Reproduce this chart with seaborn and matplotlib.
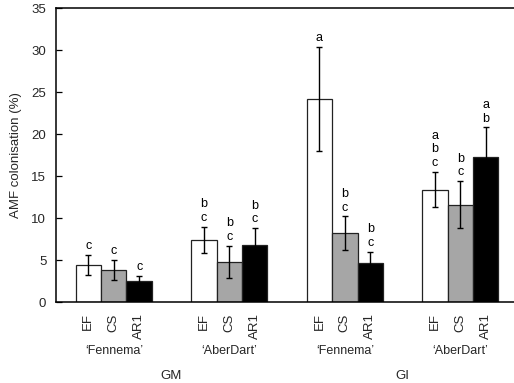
import matplotlib
matplotlib.use("Agg")
import matplotlib.pyplot as plt
import matplotlib.transforms as mtransforms
import seaborn as sns
import pandas as pd

sns.set_theme(style="white")
plt.rcParams['font.family'] = ['Liberation Sans', 'DejaVu Sans']

groups = ["GM 'Fennema'", "GM 'AberDart'", "GI 'Fennema'", "GI 'AberDart'"]
cultivars = ["\u2018Fennema\u2019", "\u2018AberDart\u2019", "\u2018Fennema\u2019", "\u2018AberDart\u2019"]
sites = ["GM", "GI"]
treatments = ["EF", "CS", "AR1"]

ef_mean = [4.4, 7.4, 24.2, 13.4]
cs_mean = [3.8, 4.8, 8.2, 11.6]
ar1_mean = [2.5, 6.8, 4.7, 17.3]
ef_err = [1.2, 1.6, 6.2, 2.1]
cs_err = [1.2, 1.9, 2.0, 2.8]
ar1_err = [0.6, 2.0, 1.3, 3.5]
ef_letters = ["c", "b\nc", "a", "a\nb\nc"]
cs_letters = ["c", "b\nc", "b\nc", "b\nc"]
ar1_letters = ["c", "b\nc", "b\nc", "a\nb"]

rows = []
for t, means, errs, lets in [("EF", ef_mean, ef_err, ef_letters),
                              ("CS", cs_mean, cs_err, cs_letters),
                              ("AR1", ar1_mean, ar1_err, ar1_letters)]:
    for g, m, e, l in zip(groups, means, errs, lets):
        rows.append(dict(group=g, treatment=t, mean=m, err=e, letter=l))
df = pd.DataFrame(rows)

fig = plt.figure(figsize=(5.14, 3.83), dpi=100)
ax = fig.add_axes([0.109, 0.211, 0.899, 0.768])

palette = {"EF": "white", "CS": "#a6a6a6", "AR1": "black"}
sns.barplot(data=df, x="group", y="mean", hue="treatment", order=groups,
            hue_order=treatments, palette=palette, width=0.66, errorbar=None,
            edgecolor="#222222", linewidth=0.9, legend=False, ax=ax)

centers = []
labels = []
bars = [p for p in ax.patches]
i = 0
for t in treatments:
    sub = df[df.treatment == t].set_index("group").loc[groups]
    for g in groups:
        p = bars[i]
        i += 1
        xc = p.get_x() + p.get_width() / 2
        m = sub.loc[g, "mean"]
        e = sub.loc[g, "err"]
        ax.errorbar(xc, m, yerr=e, fmt="none", ecolor="black", elinewidth=1,
                    capsize=2.5, capthick=1)
        ax.annotate(sub.loc[g, "letter"], (xc, m + e), xytext=(0, 2),
                    textcoords="offset points", ha="center", va="bottom",
                    fontsize=9, linespacing=1.2, color="black")
        centers.append(xc)
        labels.append(t)

ax.set_xticks(centers)
ax.set_xticklabels(labels, rotation=90, fontsize=9.5)
ax.tick_params(axis="x", length=0, pad=8)
ax.set_xlim(-0.5, 3.5)
ax.set_ylim(0, 35)
ax.set_yticks(range(0, 36, 5))
ax.tick_params(axis="y", direction="in", length=4, width=0.9, labelsize=9.5, pad=7,
               left=True, color="black")
ax.set_xlabel("")
ax.set_ylabel("AMF colonisation (%)", fontsize=9.5, labelpad=7)

for s in ["left", "bottom", "top"]:
    ax.spines[s].set_visible(True)
    ax.spines[s].set_color("black")
    ax.spines[s].set_linewidth(1.1)
ax.spines["right"].set_visible(False)

trans = mtransforms.blended_transform_factory(ax.transData, fig.transFigure)
for k, c in enumerate(cultivars):
    ax.text(k, 1 - 351 / 383, c, transform=trans, ha="center", va="center", fontsize=9)
for k, s in enumerate(sites):
    ax.text(2 * k + 0.5, 1 - 376 / 383, s, transform=trans, ha="center", va="center", fontsize=9.5)

fig.savefig("out.png", dpi=100)
